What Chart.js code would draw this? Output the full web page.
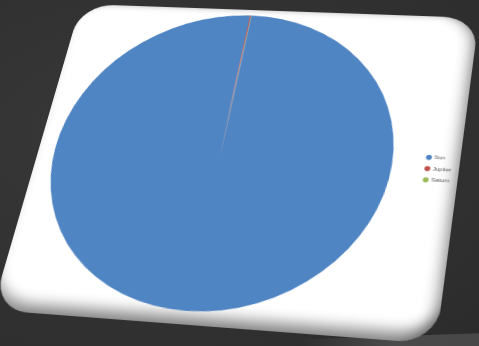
<!DOCTYPE html>
<html lang="en">
<head>
    <meta charset="UTF-8">
    <title>Mass of the Sun vs. Jupiter and Saturn</title>
    <script src="https://cdn.jsdelivr.net/npm/chart.js"></script>
    <style>
        html, body {
            margin: 0;
            padding: 0;
            width: 479px;
            height: 346px;
            overflow: hidden;
            background: radial-gradient(ellipse at 30% 40%, #383838 0%, #313131 60%, #2b2b2b 100%);
        }

        /* Faint floor reflection under the card */
        #floor {
            position: absolute;
            left: 300px;
            top: 336px;
            width: 200px;
            height: 20px;
            background: linear-gradient(90deg, rgba(80, 80, 80, 0) 0%, #4a4a4a 45%, #474747 100%);
            transform: rotate(-2deg);
        }

        /* Tilted white card that holds the chart */
        #card {
            position: absolute;
            left: 0;
            top: 0;
            width: 420px;
            height: 360px;
            background: #ffffff;
            border-radius: 36px;
            transform-origin: 0 0;
            box-shadow: inset 0 -18px 14px -8px rgba(0, 0, 0, 0.42),
                        inset -10px 0 14px -6px rgba(0, 0, 0, 0.4),
                        inset 0 4px 6px -4px rgba(0, 0, 0, 0.15);
        }

        #chartWrap {
            position: absolute;
            left: -16px;
            top: 0;
            width: 440px;
            height: 360px;
        }
    </style>
</head>
<body>

    <div id="floor"></div>
    <div id="card">
        <div id="chartWrap">
            <canvas id="pieChart" width="440" height="360"></canvas>
        </div>
    </div>

    <script>
// Masses (10^24 kg)
const bodies = ["Sun", "Jupiter", "Saturn"];
const massValues = [1989100, 1898.6, 568.5];
const sliceColors = ["#5085c4", "#c0504d", "#9bbb59"];

// Put the card in perspective: map the flat card onto a tilted quad
function squareToQuad(q) {
    const [x0, y0, x1, y1, x2, y2, x3, y3] = q;
    const dx1 = x1 - x2, dx2 = x3 - x2, dx3 = x0 - x1 + x2 - x3;
    const dy1 = y1 - y2, dy2 = y3 - y2, dy3 = y0 - y1 + y2 - y3;
    const den = dx1 * dy2 - dx2 * dy1;
    const g = (dx3 * dy2 - dx2 * dy3) / den;
    const h = (dx1 * dy3 - dx3 * dy1) / den;
    return [
        x1 - x0 + g * x1, x3 - x0 + h * x3, x0,
        y1 - y0 + g * y1, y3 - y0 + h * y3, y0,
        g, h, 1
    ];
}

const card = document.getElementById("card");
const cw = card.offsetWidth, ch = card.offsetHeight;
const m = squareToQuad([81, 4, 479, 18, 436, 344, -8, 310]);
card.style.transform = "matrix3d(" + [
    m[0] / cw, m[3] / cw, 0, m[6] / cw,
    m[1] / ch, m[4] / ch, 0, m[7] / ch,
    0, 0, 1, 0,
    m[2], m[5], 0, m[8]
].join(",") + ")";

new Chart(document.getElementById("pieChart"), {
    type: "pie",
    data: {
        labels: bodies,
        datasets: [{
            data: massValues,
            backgroundColor: sliceColors,
            borderWidth: 0
        }]
    },
    options: {
        responsive: false,
        animation: false,
        layout: { padding: { left: 7, right: 1, top: 7, bottom: 14 } },
        plugins: {
            tooltip: { enabled: false },
            legend: {
                position: "right",
                // empty title only nudges the entries down a little
                title: { display: true, text: "", font: { size: 1 }, padding: 2 },
                labels: {
                    usePointStyle: true,
                    pointStyle: "circle",
                    boxWidth: 4,
                    boxHeight: 4,
                    padding: 6.5,
                    color: "#595959",
                    font: { family: "Arial, 'Liberation Sans', sans-serif", size: 6 }
                }
            }
        }
    }
});
    </script>

</body>
</html>
